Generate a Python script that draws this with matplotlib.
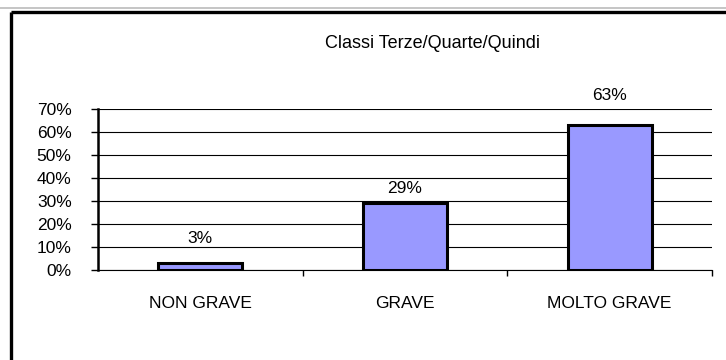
import matplotlib
matplotlib.use("Agg")
import matplotlib.pyplot as plt
from matplotlib.lines import Line2D
from matplotlib.ticker import FixedLocator, PercentFormatter

plt.rcParams['font.family'] = ['Liberation Sans', 'DejaVu Sans']

title = 'Classi Terze/Quarte/Quindi'
categories = ['NON GRAVE', 'GRAVE', 'MOLTO GRAVE']
shares = [0.03, 0.29, 0.63]
label_pad = [12, 5, 16]  # points above each bar

fig = plt.figure(figsize=(7.26, 3.6), dpi=100)
fig.patch.set_facecolor('white')

# outer frame: thin grey rim, then thick black top and left edges
fig.add_artist(Line2D([0, 1], [0.979, 0.979], color='#bbbbbb', lw=1.2,
                      transform=fig.transFigure))
fig.add_artist(Line2D([0.0145, 1], [0.968, 0.968], color='black', lw=2.4,
                      transform=fig.transFigure, solid_capstyle='butt'))
fig.add_artist(Line2D([0.0145, 0.0145], [0, 0.968], color='black', lw=2.4,
                      transform=fig.transFigure, solid_capstyle='butt'))

ax = fig.add_axes([0.135, 0.25, 0.8457, 0.447])
x = range(len(categories))
bars = ax.bar(x, shares, width=0.41, color='#9999ff', edgecolor='black',
              linewidth=2.2, zorder=3)

for rect, v, pad in zip(bars, shares, label_pad):
    ax.annotate(f'{round(v * 100)}%', (rect.get_x() + rect.get_width() / 2, v),
                xytext=(0, pad), textcoords='offset points',
                ha='center', va='bottom', fontsize=12.5)

ax.set_xlim(-0.5, 2.5)
ax.set_ylim(0, 0.7)
ax.set_yticks([i / 10 for i in range(8)])
ax.yaxis.set_major_formatter(PercentFormatter(1.0, decimals=0))
ax.yaxis.grid(True, color='black', linewidth=0.8)
ax.set_axisbelow(True)

ax.set_xticks(list(x))
ax.set_xticklabels(categories)
ax.xaxis.set_minor_locator(FixedLocator([0.5, 1.5, 2.5]))
ax.tick_params(axis='x', which='major', length=0, pad=19, labelsize=12.5)
ax.tick_params(axis='x', which='minor', length=4, width=1)
ax.tick_params(axis='y', length=5, width=1, pad=14, labelsize=12.5)

for side in ['top', 'right']:
    ax.spines[side].set_visible(False)
ax.spines['left'].set_linewidth(1.8)
ax.spines['bottom'].set_linewidth(0.8)

fig.text(0.596, 0.878, title, ha='center', va='center', fontsize=13)

fig.savefig('out.png', dpi=100)
